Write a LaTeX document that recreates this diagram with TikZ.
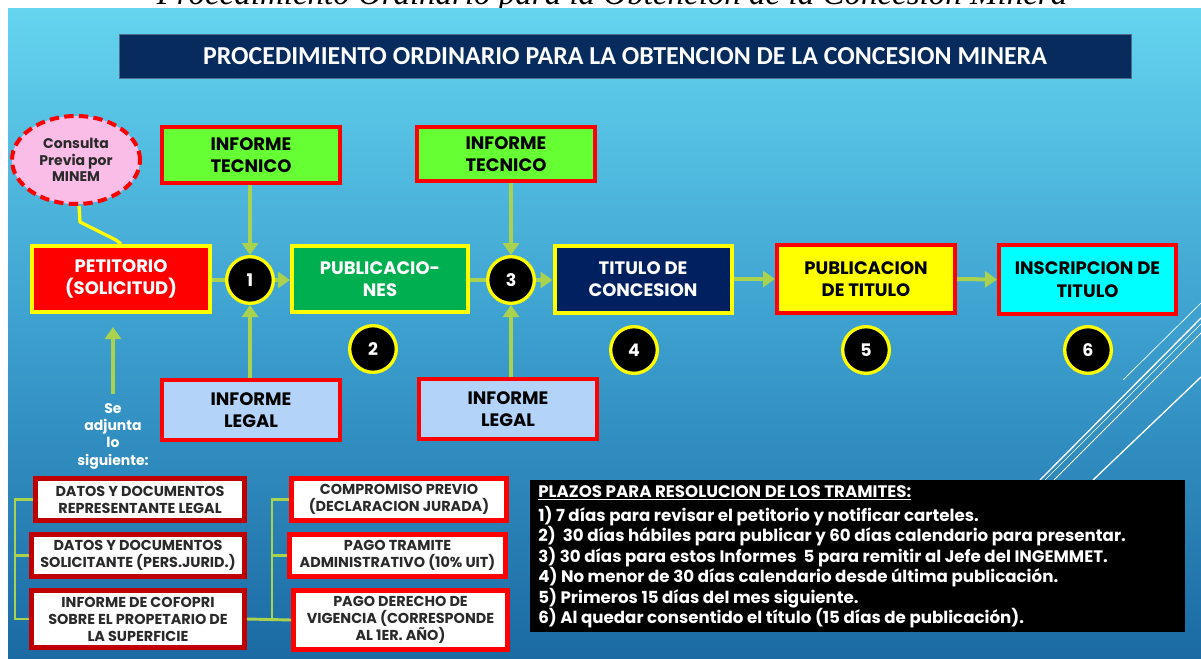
\documentclass[tikz,border=0pt]{standalone}
\usepackage{fontspec}
\setmainfont{Poppins}
\newfontfamily\titlefont{Carlito}
\newfontfamily\capfont{Liberation Serif}
\usetikzlibrary{arrows.meta,shapes.geometric}
\definecolor{igreen}{HTML}{66FF33}
\definecolor{pgreen}{HTML}{00B050}
\definecolor{navy}{HTML}{002060}
\definecolor{tnavy}{HTML}{062B5C}
\definecolor{ylw}{HTML}{FFFF00}
\definecolor{cyanb}{HTML}{00FFFF}
\definecolor{lblue}{HTML}{B4D3F8}
\definecolor{pinkb}{HTML}{F9BDE8}
\definecolor{agreen}{HTML}{A9D24E}
\definecolor{dred}{HTML}{C00000}
\definecolor{bgtop}{HTML}{64D4EF}
\definecolor{bgmid}{HTML}{3C9FCE}
\definecolor{bgbot}{HTML}{1B6AA3}
\definecolor{dtext}{HTML}{2A2A2A}
\begin{document}
\begin{tikzpicture}[x=0.75pt,y=-0.75pt,
  sz/.style 2 args={minimum width=#1*0.75pt, minimum height=#2*0.75pt},
  procbox/.style={draw, line width=3pt, inner sep=0pt, align=center, font=\bfseries\fontsize{13.5pt}{17pt}\selectfont},
  docbox/.style={draw, fill=white, line width=3.5pt, inner sep=0pt, align=center, text=dtext, font=\bfseries\fontsize{10.8pt}{12.75pt}\selectfont},
  numc/.style={circle, fill=black, draw=ylw, line width=2.5pt, minimum size=35pt, inner sep=0pt, text=white, font=\bfseries\fontsize{13pt}{13pt}\selectfont},
  arr/.style={draw=agreen, line width=3pt, -{Triangle[width=12pt,length=9pt]}},
  link/.style={draw=agreen, line width=3pt},
  blink/.style={draw=agreen, line width=2.2pt},
  diag/.style={draw=white, line cap=round}
]
\useasboundingbox (0,0) rectangle (1201,659);
% caption partly visible above the slide
\node[font=\capfont\itshape\fontsize{24.75pt}{28pt}\selectfont, anchor=base, inner sep=0pt] (cap) at (612,5) {Procedimiento Ordinario para la Obtención de la Concesión Minera};
% slide background
\shade[top color=bgtop, bottom color=bgbot, middle color=bgmid] (8,9) rectangle (1201,659);
% decorative diagonal lines
\begin{scope}
\clip (8,9) rectangle (1201,659);
\draw[diag, line width=0.5pt] (1123,380) -- (1201,303);
\draw[diag, line width=1pt] (1040,480) -- (1201,318);
\draw[diag, line width=0.5pt] (1045,480) -- (1201,324);
\draw[diag, line width=0.7pt] (1054,480) -- (1201,333);
\draw[diag, line width=1pt] (1093,480) -- (1201,377);
\end{scope}
% title
\node[fill=tnavy, draw=tnavy!70!white, line width=0.6pt, sz={1012}{44}, text=white, font=\titlefont\bfseries\fontsize{19.4pt}{22pt}\selectfont] (title) at (625,56.5) {PROCEDIMIENTO ORDINARIO PARA LA OBTENCION DE LA CONCESION MINERA};
% consultation ellipse
\node[ellipse, fill=pinkb, draw=red, line width=3pt, dash pattern=on 7pt off 4pt, sz={128}{88}, inner sep=0pt, align=center, text=dtext, font=\bfseries\fontsize{10.5pt}{12.5pt}\selectfont] (cons) at (76,160) {Consulta\\Previa por\\MINEM};
% main process boxes
\node[procbox, fill=igreen, draw=red, sz={178}{56}] (it1) at (251,155) {INFORME\\TECNICO};
\node[procbox, fill=igreen, draw=red, sz={178}{54}] (it2) at (506,154) {INFORME\\TECNICO};
\node[procbox, fill=red, draw=ylw, text=white, sz={178}{66}] (pet) at (121,279) {PETITORIO\\(SOLICITUD)};
\node[procbox, fill=pgreen, draw=ylw, text=white, sz={176}{66}] (pub) at (380,279) {PUBLICACIO-\\NES};
\node[procbox, fill=navy, draw=ylw, text=white, sz={177}{67}] (tit) at (643,279) {TITULO DE\\CONCESION};
\node[procbox, fill=ylw, draw=red, sz={178}{68}] (pt) at (866,279) {PUBLICACION\\DE TITULO};
\node[procbox, fill=cyanb, draw=red, sz={177}{69}] (ins) at (1087.5,279.5) {INSCRIPCION DE\\TITULO};
\node[procbox, fill=lblue, draw=red, sz={178}{60}] (il1) at (251,410) {INFORME\\LEGAL};
\node[procbox, fill=lblue, draw=red, sz={178}{60}] (il2) at (508,409) {INFORME\\LEGAL};
% numbered circles
\node[numc] (c1) at (250,280) {1};
\node[numc] (c3) at (511,280) {3};
\node[numc] (c2) at (373,349) {2};
\node[numc] (c4) at (634,350) {4};
\node[numc] (c5) at (866,350) {5};
\node[numc] (c6) at (1088,350) {6};
% connectors
\draw[draw=ylw, line width=2.5pt, line join=round] (cons.south) ++(3,0) -- ++(1,16) -- ++(36,18) -- (pet.north);
\draw[arr] (it1.south -| c1) -- (c1.north);
\draw[arr] (il1.north -| c1) -- (c1.south);
\draw[link] (pet.east |- c1) -- (c1.west);
\draw[arr] (c1.east) -- (c1.east -| pub.west);
\draw[link] (pub.east |- c3) -- (c3.west);
\draw[arr] (it2.south -| c3) -- (c3.north);
\draw[arr] (il2.north -| c3) -- (c3.south);
\draw[arr] (c3.east) -- (c3.east -| tit.west);
\draw[arr] (tit.east) -- (pt.west);
\draw[arr] (pt.east) -- (ins.west);
% attachments
\coordinate (sa) at (113,394);
\draw[arr] (sa) -- ++(0,-67);
\node[align=center, text=white, inner sep=0pt, font=\bfseries\fontsize{10.5pt}{13pt}\selectfont] (adj) at (113,436) {Se\\adjunta\\lo\\siguiente:};
\node[docbox, draw=dred, sz={209}{42}] (b1) at (140,499.5) {DATOS Y DOCUMENTOS\\REPRESENTANTE LEGAL};
\node[docbox, draw=dred, sz={213}{42}] (b2) at (138,555.5) {DATOS Y DOCUMENTOS\\SOLICITANTE (PERS.JURID.)};
\node[docbox, draw=dred, sz={213}{57}] (b3) at (138,619) {INFORME DE COFOPRI\\SOBRE EL PROPETARIO DE\\LA SUPERFICIE};
\node[docbox, draw=red, sz={215}{42}] (r1) at (399,499.5) {COMPROMISO PREVIO\\(DECLARACION JURADA)};
\node[docbox, draw=red, sz={216}{42}] (r2) at (397.5,555.5) {PAGO TRAMITE\\ADMINISTRATIVO (10\% UIT)};
\node[docbox, draw=red, sz={214}{59}] (r3) at (400.5,620) {PAGO DERECHO DE\\VIGENCIA (CORRESPONDE\\AL 1ER. AÑO)};
\coordinate (lb) at (15,0);
\coordinate (rb) at (272,0);
\draw[blink] (b1.west) -- (b1.west -| lb) -- (b3.west -| lb) -- (b3.west);
\draw[blink] (b2.west) -- (b2.west -| lb);
\draw[blink] (b3.east) -- (r3.west);
\draw[blink] (r1.west) -- (r1.west -| rb) -- (b3.east -| rb);
\draw[blink] (r2.west) -- (r2.west -| rb);
% deadlines box
\node[fill=black, anchor=north west, sz={655}{152}, inner sep=0pt] (plz) at (530,480) {};
\node[anchor=north west, text=white, align=left, inner sep=0pt, font=\bfseries\fontsize{12.5pt}{15.4pt}\selectfont] (plt) at (538,485) {\underline{PLAZOS PARA RESOLUCION DE LOS TRAMITES:}\\[2.6pt]
1) 7 días para revisar el petitorio y notificar carteles.\\
2)\ \ 30 días hábiles para publicar y 60 días calendario para presentar.\\
3) 30 días para estos Informes\ \ 5 para remitir al Jefe del INGEMMET.\\
4) No menor de 30 días calendario desde última publicación.\\
5) Primeros 15 días del mes siguiente.\\
6) Al quedar consentido el título (15 días de publicación).};
\end{tikzpicture}
\end{document}
